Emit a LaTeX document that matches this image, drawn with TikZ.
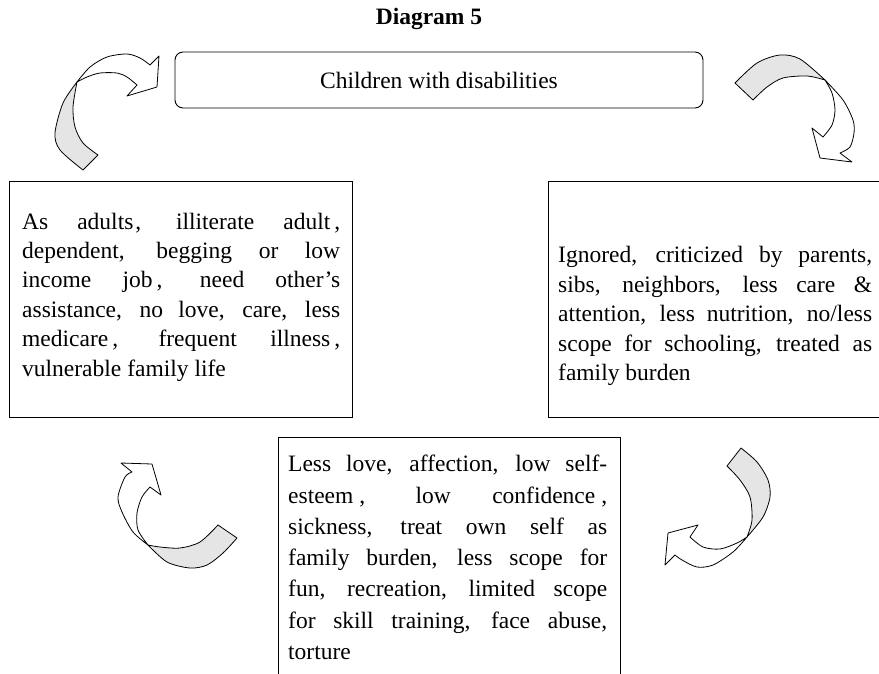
\documentclass[tikz,border=0pt]{standalone}
\usepackage{fontspec}
\setmainfont{Liberation Serif}
\begin{document}
\begin{tikzpicture}[x=1pt,y=-1pt,
  box/.style={draw=black, line width=0.9pt, inner sep=0pt},
  txt/.style={inner sep=0pt, align=justify},
  band/.style={draw=black, line width=0.8pt, line join=round, fill=gray!20},
  body/.style={draw=black, line width=0.8pt, line join=round, fill=white}]
\useasboundingbox (0,0) rectangle (879,673);

% title and top box
\node[font=\fontsize{23.5}{28}\selectfont\bfseries, inner sep=0pt] (title) at (429,19) {Diagram 5};
\node[box, rounded corners=8pt, minimum width=528pt, minimum height=56pt,
      font=\fontsize{23.5}{28}\selectfont] (top) at (439,80) {Children with disabilities};

% left box
\node[box, anchor=north west, minimum width=343pt, minimum height=236pt] (leftbox) at (9,181) {};
\node[txt, font=\fontsize{23.5}{29.4}\selectfont, text width=318pt, anchor=west] (lefttext) at (22,297) {As adults\kern2pt, illiterate adult\kern4pt,\linebreak
dependent, begging or low\linebreak
income job\kern4pt, need other's\linebreak
assistance, no love, care, less\linebreak
medicare\kern4pt, frequent illness\kern4pt,\linebreak
vulnerable family life};

% right box
\node[box, anchor=north west, minimum width=360pt, minimum height=236pt] (rightbox) at (548,181) {};
\node[txt, font=\fontsize{23.5}{29.5}\selectfont, text width=314pt, anchor=west] (righttext) at (558,316) {Ignored, criticized by parents,\linebreak
sibs, neighbors, less care \&\linebreak
attention, less nutrition, no/less\linebreak
scope for schooling, treated as\linebreak
family burden};

% bottom box
\node[box, anchor=north west, minimum width=342pt, minimum height=260pt] (bottombox) at (278,437) {};
\node[txt, font=\fontsize{23.5}{31.3}\selectfont, text width=319pt, anchor=north west] (bottomtext) at (288,455) {Less love, affection, low self-\linebreak
esteem\kern6pt, low confidence\kern6pt,\linebreak
sickness, treat own self as\linebreak
family burden, less scope for\linebreak
fun, recreation, limited scope\linebreak
for skill training, face abuse,\linebreak
torture};

% top-left curved arrow
\path[band] (83,170) -- (98,155)
  -- plot[smooth] coordinates {(98,155) (83,143) (75,127) (73,107) (77,82)}
  -- plot[smooth] coordinates {(77,82) (63,103) (55,133) (60,150) (83,170)} -- cycle;
\path[body] (77,82)
  -- plot[smooth] coordinates {(77,82) (90,67) (107,57) (127,54) (140,58) (150,65)}
  -- (159,56) -- (157,87) -- (127,96) -- (137,85)
  -- plot[smooth] coordinates {(137,85) (127,77) (117,73) (100,73) (87,77) (77,82)} -- cycle;

% top-right curved arrow
\path[band] (735,83) -- (753,100)
  -- plot[smooth] coordinates {(753,100) (767,87) (783,78) (807,76) (825,80)}
  -- plot[smooth] coordinates {(825,80) (800,59) (780,55) (757,63) (735,83)} -- cycle;
\path[body] (825,80)
  -- plot[smooth] coordinates {(825,80) (843,100) (853,120) (854,133) (850,147) (840,153)}
  -- (852,162) -- (820,158) -- (812,128) -- (823,137)
  -- plot[smooth] coordinates {(823,137) (832,125) (835,110) (832,93) (825,80)} -- cycle;

% bottom-right curved arrow
\path[band] (727,466) -- (741,448)
  -- plot[smooth] coordinates {(741,448) (757,462) (768,480) (770,497) (763,517) (747,537)}
  -- plot[smooth] coordinates {(747,537) (752,520) (750,497) (740,480) (727,466)} -- cycle;
\path[body] (747,537)
  -- plot[smooth] coordinates {(747,537) (733,552) (713,565) (697,567) (682,560) (675,555)}
  -- (665,565) -- (668,533) -- (698,525) -- (690,537)
  -- plot[smooth] coordinates {(690,537) (703,547) (720,549) (737,543) (747,537)} -- cycle;

% bottom-left curved arrow
\path[band] (218,525) -- (237,538)
  -- plot[smooth] coordinates {(237,538) (223,553) (207,565) (190,568) (167,562) (148,545)}
  -- plot[smooth] coordinates {(148,545) (160,547) (180,548) (200,542) (218,525)} -- cycle;
\path[body] (148,545)
  -- plot[smooth] coordinates {(148,545) (133,532) (122,512) (118,497) (125,477) (132,472)}
  -- (121,463) -- (152,464) -- (161,495) -- (150,487)
  -- plot[smooth] coordinates {(150,487) (142,497) (137,513) (138,530) (148,545)} -- cycle;
\end{tikzpicture}
\end{document}
